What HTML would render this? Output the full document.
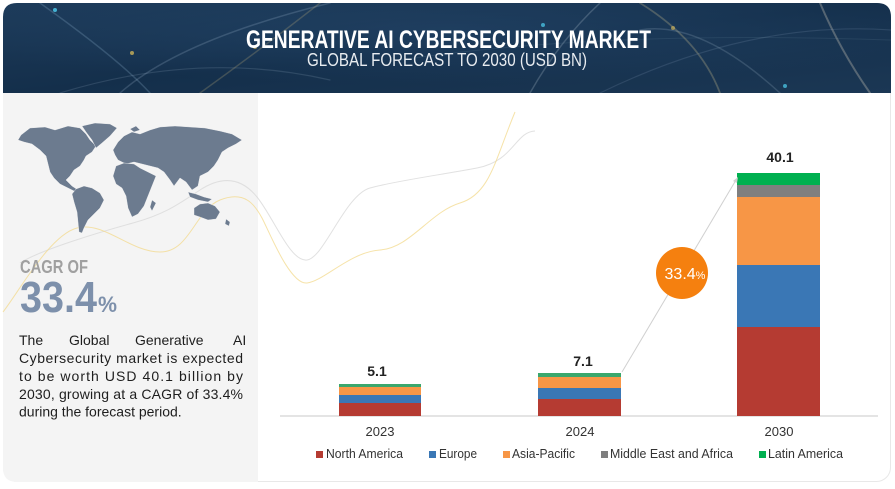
<!DOCTYPE html>
<html><head><meta charset="utf-8"><style>
html,body{margin:0;padding:0;background:#fff;}
svg{display:block;}
</style></head><body>
<svg width="895" height="489" viewBox="0 0 895 489" xmlns="http://www.w3.org/2000/svg" font-family="'Liberation Sans', Arial, sans-serif">
<defs>
<linearGradient id="hg" x1="0" y1="0" x2="1" y2="1">
<stop offset="0" stop-color="#1d3b5a"/>
<stop offset="0.5" stop-color="#142f4b"/>
<stop offset="1" stop-color="#1b3754"/>
</linearGradient>
<radialGradient id="hg2" cx="0.5" cy="0.3" r="0.6">
<stop offset="0" stop-color="#24466a" stop-opacity="0.6"/>
<stop offset="1" stop-color="#24466a" stop-opacity="0"/>
</radialGradient>
<clipPath id="hc"><path d="M3 17 Q3 3 17 3 L877 3 Q891 3 891 17 L891 93 L3 93 Z"/></clipPath>
</defs>
<rect x="3.5" y="3.5" width="887" height="478" rx="14" fill="#fff" stroke="#e8e8e8"/>
<path d="M3 93 L258 93 L258 482 L17 482 Q3 482 3 468 Z" fill="#f4f4f4"/>
<g clip-path="url(#hc)">
<rect x="3" y="3" width="888" height="90" fill="url(#hg)"/>
<rect x="3" y="3" width="888" height="90" fill="url(#hg2)"/>
<g fill="none" stroke-linecap="round">
<path d="M40 3 Q120 60 150 93" stroke="#8fb3cf" stroke-opacity="0.25" stroke-width="1.5"/>
<path d="M120 93 Q180 40 330 3" stroke="#a9c0d4" stroke-opacity="0.22" stroke-width="1.5"/>
<path d="M60 93 Q200 50 330 80" stroke="#9fb8cc" stroke-opacity="0.18" stroke-width="1.2"/>
<path d="M200 93 Q260 50 320 3" stroke="#c9b57a" stroke-opacity="0.25" stroke-width="1.5"/>
<path d="M530 93 Q560 40 600 3" stroke="#b8c6d4" stroke-opacity="0.25" stroke-width="1.5"/>
<path d="M640 3 Q700 40 720 93" stroke="#c8b88a" stroke-opacity="0.3" stroke-width="1.8"/>
<path d="M640 30 Q700 20 780 93" stroke="#9fb5c9" stroke-opacity="0.22" stroke-width="1.5"/>
<path d="M820 3 Q840 50 870 93" stroke="#c9c4b5" stroke-opacity="0.35" stroke-width="2"/>
<path d="M600 93 Q750 20 891 30" stroke="#8fa9c0" stroke-opacity="0.18" stroke-width="1.2"/>
<path d="M400 60 Q600 30 891 40" stroke="#8fa9c0" stroke-opacity="0.12" stroke-width="1"/>
</g>
<circle cx="55" cy="10" r="2" fill="#4fd0f0" opacity="0.8"/>
<circle cx="132" cy="53" r="2" fill="#e3c25a" opacity="0.7"/>
<circle cx="255" cy="47" r="2" fill="#e3c25a" opacity="0.6"/>
<circle cx="543" cy="25" r="2" fill="#4fd0f0" opacity="0.7"/>
<circle cx="673" cy="28" r="2" fill="#e3c25a" opacity="0.6"/>
<circle cx="785" cy="86" r="2" fill="#4fd0f0" opacity="0.7"/>
</g>
<text x="246" y="48" font-size="25" font-weight="bold" fill="#ffffff" textLength="405" lengthAdjust="spacingAndGlyphs">GENERATIVE AI CYBERSECURITY MARKET</text>
<text x="307" y="66" font-size="18" fill="#e8ecf0" textLength="280" lengthAdjust="spacingAndGlyphs">GLOBAL FORECAST TO 2030 (USD BN)</text>

<g fill="none" stroke-width="1">
<path d="M20 263 C40 250, 100 232, 133 223 S180 203, 200 190 S240 176, 257 197 S290 262, 307 260 S345 195, 370 188 S440 175, 477 168 S515 132, 535 131" stroke="#dadada" stroke-opacity="0.8"/>
<path d="M3 312 C20 290, 50 235, 77 228 S130 252, 160 252 S195 210, 220 200 S255 205, 262 218 S290 285, 307 283 S350 252, 380 250 S430 212, 460 203 S495 160, 515 112" stroke="#f3d98c" stroke-opacity="0.75"/>
</g>

<g fill="#6c7b8f" stroke="#f4f4f4" stroke-width="0.4">
<path d="M21 135 L30 128 L45 127 L55 130 L68 126 L80 128 L86 134 L90 140 L96 146 L92 152 L86 156 L84 160 L80 166 L74 170 L70 176 L66 180 L72 186 L78 190 L76 192 L68 188 L60 184 L54 178 L50 172 L48 164 L46 156 L40 150 L32 144 L24 142 L18 140 Z"/>
<path d="M82 126 L95 123 L110 124 L117 128 L110 136 L102 143 L96 148 L92 140 L86 132 Z"/>
<path d="M76 189 L84 186 L92 188 L100 193 L104 200 L100 208 L94 214 L88 220 L84 228 L82 233 L79 232 L78 222 L77 212 L74 202 L72 194 Z"/>
<path d="M113 150 L118 142 L124 136 L132 132 L140 134 L150 130 L160 127 L175 126 L190 127 L205 128 L220 131 L232 134 L242 140 L236 144 L228 148 L222 152 L218 160 L214 166 L208 172 L200 176 L198 186 L192 190 L186 182 L180 178 L174 186 L170 180 L164 172 L158 168 L150 166 L142 164 L134 162 L126 164 L118 160 L115 155 Z"/>
<path d="M116 166 L124 163 L134 164 L140 168 L148 172 L156 176 L152 186 L148 196 L144 206 L138 214 L132 217 L128 208 L126 196 L122 188 L116 184 L113 176 Z"/>
<path d="M152 200 L156 203 L152 211 L150 207 Z"/>
<path d="M194 208 L200 204 L208 203 L215 206 L220 212 L216 219 L208 220 L200 217 L194 215 Z"/>
<path d="M188 192 L196 194 L204 197 L212 199 L208 202 L198 200 L190 197 Z"/>
<path d="M226 219 L230 222 L229 226 L225 224 Z"/>
<path d="M130 129 L136 126 L140 130 L134 132 Z"/>
</g>

<text x="20" y="273" font-size="18" font-weight="bold" fill="#a0a0a0" textLength="68" lengthAdjust="spacingAndGlyphs">CAGR OF</text>
<text x="20" y="312" font-size="44" font-weight="bold" fill="#7d90ab" textLength="77" lengthAdjust="spacingAndGlyphs">33.4</text>
<text x="98" y="312" font-size="22" font-weight="bold" fill="#7d90ab" textLength="19" lengthAdjust="spacingAndGlyphs">%</text>

<g font-size="14" fill="#1e1e1e">
<text x="19" y="345">The</text>
<text x="69" y="345">Global</text>
<text x="135" y="345">Generative</text>
<text x="233" y="345">AI</text>
<text x="19" y="363" textLength="224" lengthAdjust="spacing">Cybersecurity market is expected</text>
<text x="19" y="381" textLength="224" lengthAdjust="spacing">to be worth USD 40.1 billion by</text>
<text x="19" y="399" textLength="224" lengthAdjust="spacing">2030, growing at a CAGR of 33.4%</text>
<text x="19" y="416.5">during the forecast period.</text>
</g>

<line x1="280" y1="416" x2="878" y2="416" stroke="#dcdcdc" stroke-width="1.5"/>

<rect x="339" y="403" width="82" height="13" fill="#b53b32"/>
<rect x="339" y="395" width="82" height="8" fill="#3a77b5"/>
<rect x="339" y="387" width="82" height="8" fill="#f79646"/>
<rect x="339" y="384" width="82" height="3" fill="#3aa76d"/>
<rect x="538" y="399" width="83" height="17" fill="#b53b32"/>
<rect x="538" y="388" width="83" height="11" fill="#3a77b5"/>
<rect x="538" y="377" width="83" height="11" fill="#f79646"/>
<rect x="538" y="373" width="83" height="4" fill="#3aa76d"/>
<rect x="737" y="327" width="83" height="89" fill="#b53b32"/>
<rect x="737" y="265" width="83" height="62" fill="#3a77b5"/>
<rect x="737" y="197" width="83" height="68" fill="#f79646"/>
<rect x="737" y="185" width="83" height="12" fill="#7f7f7f"/>
<rect x="737" y="173" width="83" height="12" fill="#00b050"/>

<g font-size="14" font-weight="bold" fill="#222" text-anchor="middle">
<text x="377" y="376">5.1</text>
<text x="583" y="366">7.1</text>
<text x="780" y="162">40.1</text>
</g>

<line x1="622" y1="372" x2="736" y2="180" stroke="#d0d0d0" stroke-width="1"/>
<path d="M738 177 L733 181 L737 183 Z" fill="#d0d0d0"/>
<circle cx="682" cy="273" r="26" fill="#f5800f"/>
<text x="685" y="279" text-anchor="middle" fill="#ffffff" font-size="16">33.4<tspan font-size="11">%</tspan></text>

<g font-size="13" fill="#333" text-anchor="middle">
<text x="380" y="436">2023</text>
<text x="580" y="436">2024</text>
<text x="779" y="436">2030</text>
</g>

<g font-size="13" fill="#333">
<rect x="316" y="451" width="7" height="7" fill="#b53b32"/>
<text x="326" y="458" textLength="77" lengthAdjust="spacingAndGlyphs">North America</text>
<rect x="429" y="451" width="7" height="7" fill="#3a77b5"/>
<text x="439" y="458" textLength="38" lengthAdjust="spacingAndGlyphs">Europe</text>
<rect x="503" y="451" width="7" height="7" fill="#f79646"/>
<text x="512" y="458" textLength="63" lengthAdjust="spacingAndGlyphs">Asia-Pacific</text>
<rect x="601" y="451" width="7" height="7" fill="#7f7f7f"/>
<text x="610" y="458" textLength="123" lengthAdjust="spacingAndGlyphs">Middle East and Africa</text>
<rect x="759" y="451" width="7" height="7" fill="#00b050"/>
<text x="768" y="458" textLength="75" lengthAdjust="spacingAndGlyphs">Latin America</text>
</g>
</svg>
</body></html>
